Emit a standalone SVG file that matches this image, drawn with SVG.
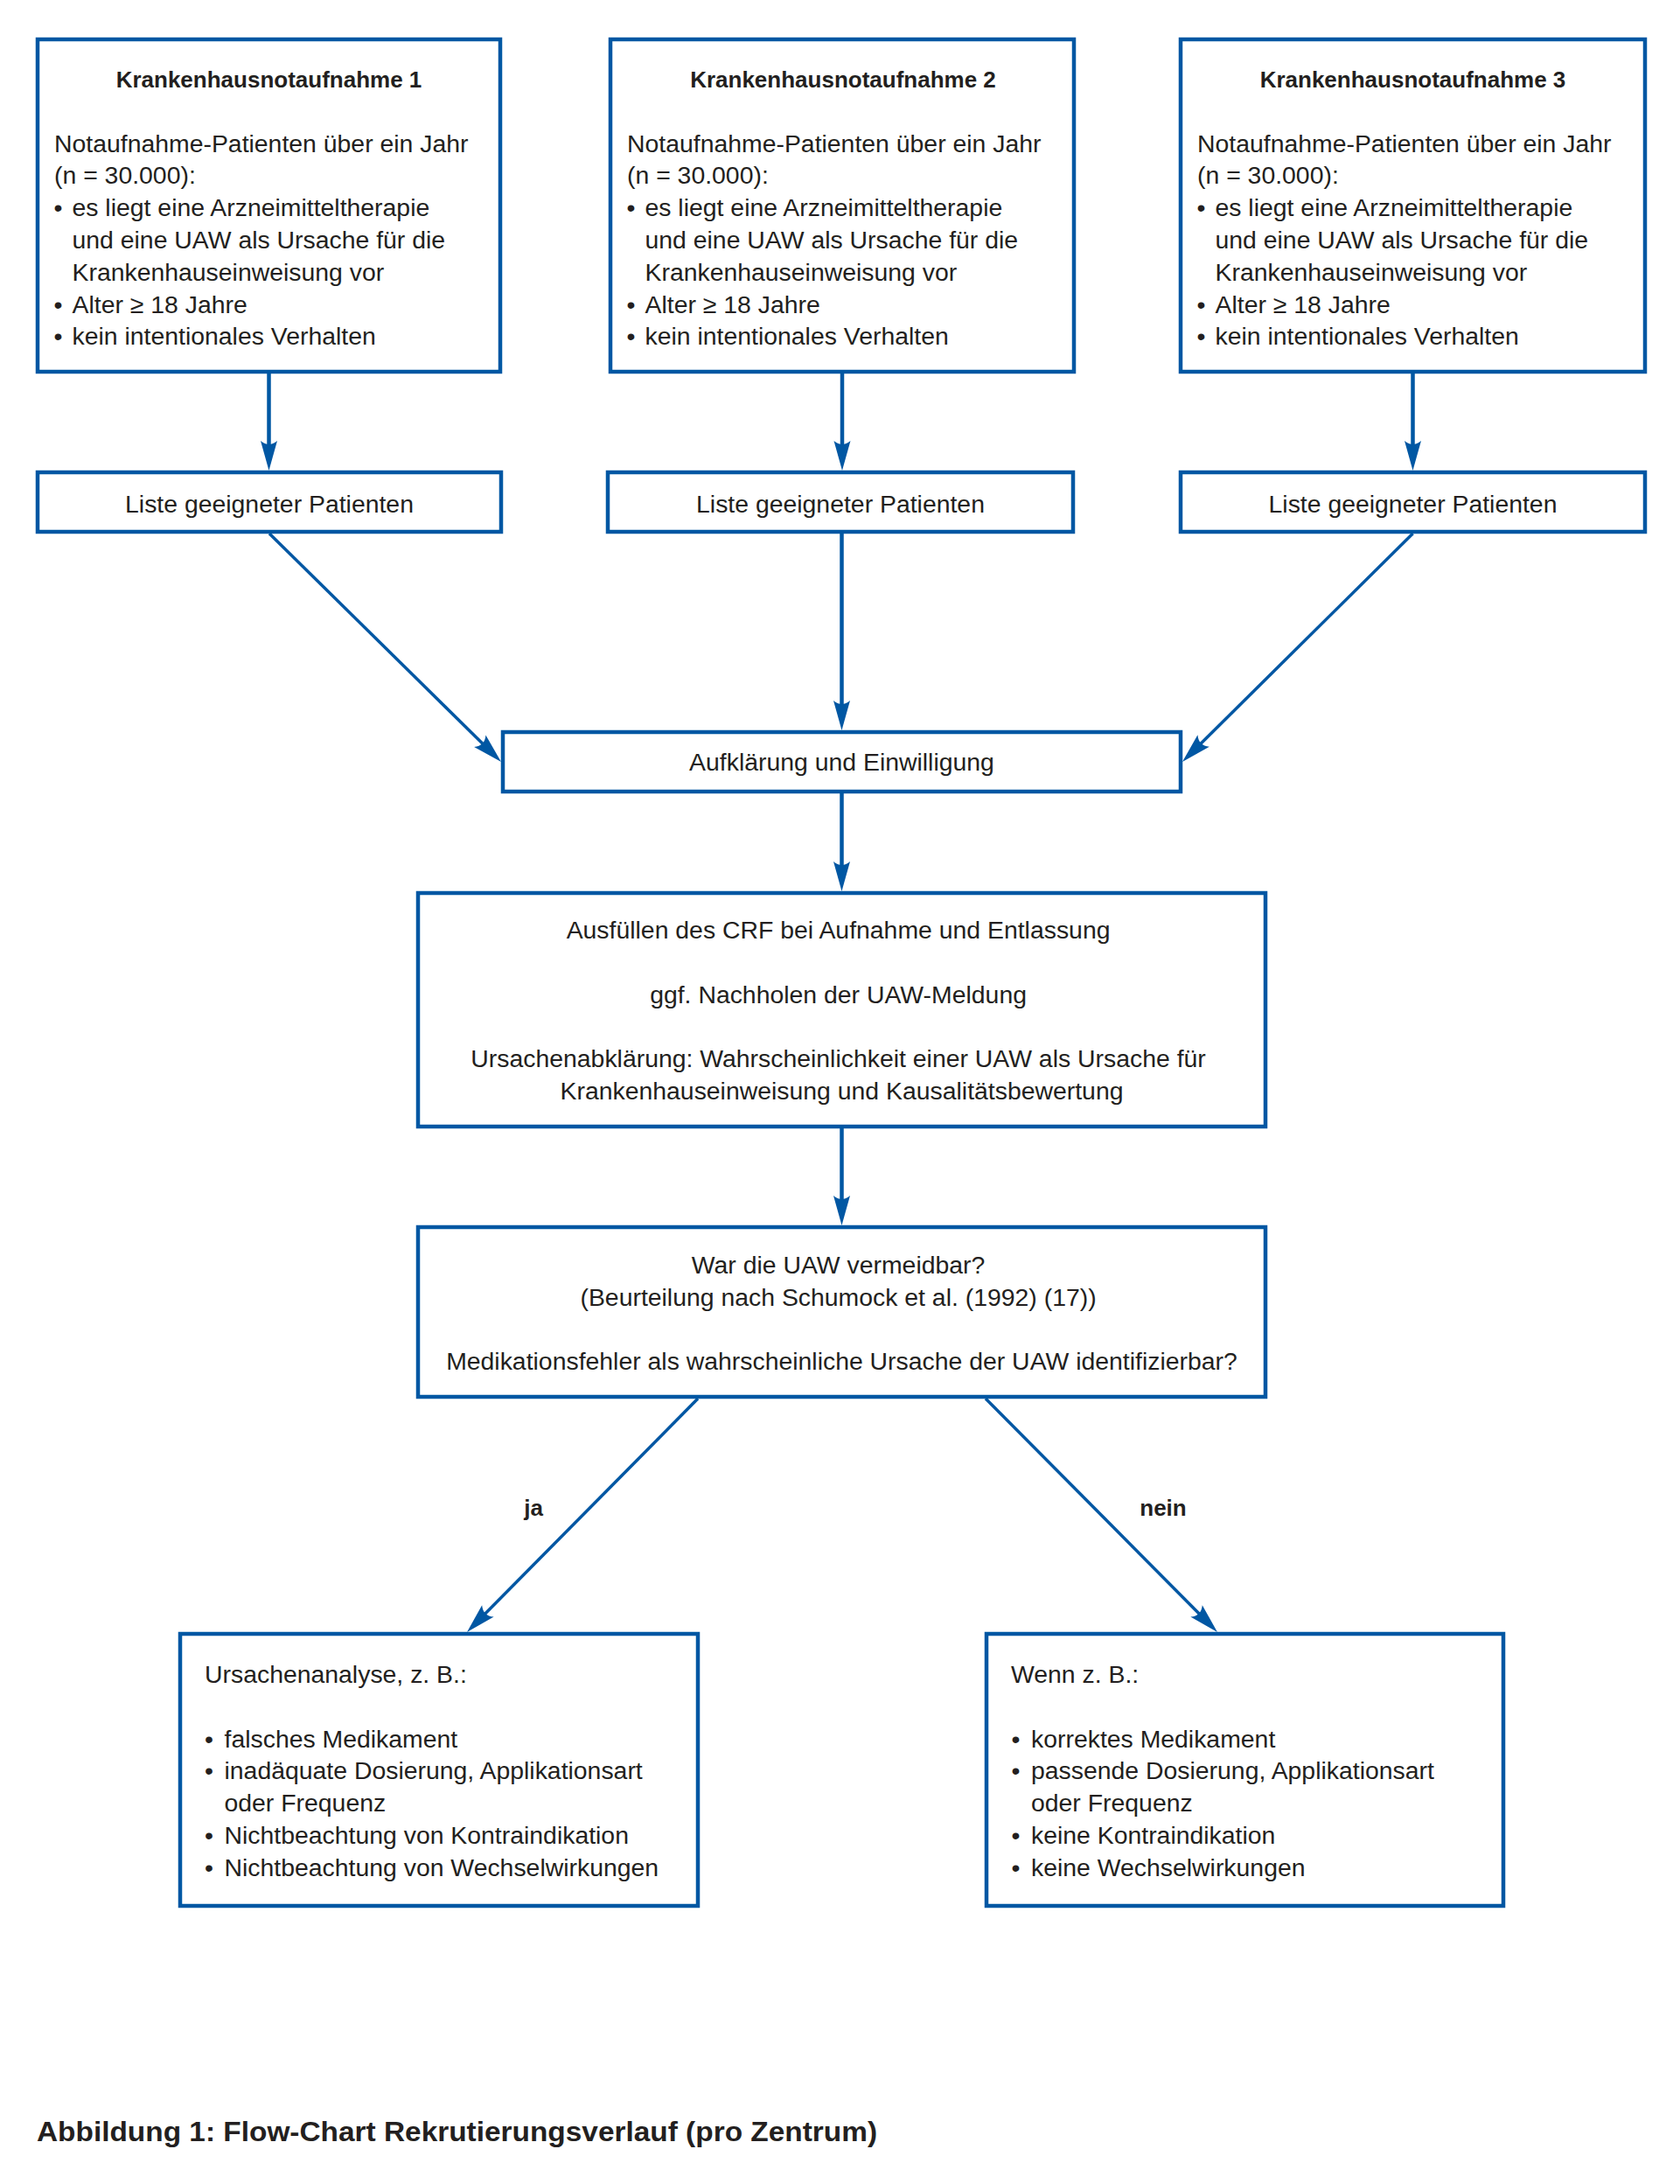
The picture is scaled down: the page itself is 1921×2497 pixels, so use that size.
<svg xmlns="http://www.w3.org/2000/svg" width="1921" height="2497" viewBox="0 0 1921 2497">
<style>
.box{fill:#ffffff;stroke:#0057a3;stroke-width:4.5}
.t{font-family:"Liberation Sans",Arial,sans-serif;font-size:28.4px;fill:#231f20}
.b{font-weight:bold;font-size:26px}
.c{text-anchor:middle}
.con{stroke:#0057a3;fill:none}
.v{stroke-width:4.5}
.d{stroke-width:3.5}
</style>
<defs>
<marker id="ah" markerUnits="userSpaceOnUse" viewBox="0 -10 36 20" markerWidth="36" markerHeight="20" refX="14" refY="0" orient="auto">
<path d="M34,0 L0,-9.5 Q8,0 0,9.5 Z" fill="#0057a3"/>
</marker>
</defs>
<rect x="0" y="0" width="1921" height="2497" fill="#ffffff"/>

<g id="connectors">
<line class="con v" x1="307.5" y1="427" x2="307.5" y2="518" marker-end="url(#ah)"/>
<line class="con v" x1="963" y1="427" x2="963" y2="518" marker-end="url(#ah)"/>
<line class="con v" x1="1615.5" y1="427" x2="1615.5" y2="518" marker-end="url(#ah)"/>
<line class="con d" x1="308" y1="610" x2="558.75" y2="856.97" marker-end="url(#ah)"/>
<line class="con v" x1="962.5" y1="610" x2="962.5" y2="815" marker-end="url(#ah)"/>
<line class="con d" x1="1615.5" y1="610" x2="1366.2" y2="856.9" marker-end="url(#ah)"/>
<line class="con v" x1="962.5" y1="907" x2="962.5" y2="999" marker-end="url(#ah)"/>
<line class="con v" x1="962.5" y1="1290" x2="962.5" y2="1381" marker-end="url(#ah)"/>
<line class="con d" x1="798" y1="1599" x2="548.06" y2="1851.78" marker-end="url(#ah)"/>
<line class="con d" x1="1127" y1="1599" x2="1377.9" y2="1851.8" marker-end="url(#ah)"/>
<text class="t b c" x="610" y="1733">ja</text>
<text class="t b c" x="1330" y="1733">nein</text>
</g>

<g id="kh1">
<rect class="box" x="43" y="45" width="529" height="380"/>
<text class="t b c" x="307.5" y="100">Krankenhausnotaufnahme 1</text>
<text class="t">
<tspan x="62" y="173.5">Notaufnahme-Patienten über ein Jahr</tspan>
<tspan x="62" y="210.3">(n = 30.000):</tspan>
<tspan x="82.5" y="247.1">es liegt eine Arzneimitteltherapie</tspan>
<tspan x="82.5" y="283.9">und eine UAW als Ursache für die</tspan>
<tspan x="82.5" y="320.7">Krankenhauseinweisung vor</tspan>
<tspan x="82.5" y="357.5">Alter ≥ 18 Jahre</tspan>
<tspan x="82.5" y="394.3">kein intentionales Verhalten</tspan>
</text>
<text class="t c"><tspan x="66.5" y="247.1">•</tspan><tspan x="66.5" y="357.5">•</tspan><tspan x="66.5" y="394.3">•</tspan></text>
</g>

<g id="kh2">
<rect class="box" x="698" y="45" width="530" height="380"/>
<text class="t b c" x="964" y="100">Krankenhausnotaufnahme 2</text>
<text class="t">
<tspan x="717" y="173.5">Notaufnahme-Patienten über ein Jahr</tspan>
<tspan x="717" y="210.3">(n = 30.000):</tspan>
<tspan x="737.5" y="247.1">es liegt eine Arzneimitteltherapie</tspan>
<tspan x="737.5" y="283.9">und eine UAW als Ursache für die</tspan>
<tspan x="737.5" y="320.7">Krankenhauseinweisung vor</tspan>
<tspan x="737.5" y="357.5">Alter ≥ 18 Jahre</tspan>
<tspan x="737.5" y="394.3">kein intentionales Verhalten</tspan>
</text>
<text class="t c"><tspan x="721.5" y="247.1">•</tspan><tspan x="721.5" y="357.5">•</tspan><tspan x="721.5" y="394.3">•</tspan></text>
</g>

<g id="kh3">
<rect class="box" x="1350" y="45" width="531" height="380"/>
<text class="t b c" x="1615.5" y="100">Krankenhausnotaufnahme 3</text>
<text class="t">
<tspan x="1369" y="173.5">Notaufnahme-Patienten über ein Jahr</tspan>
<tspan x="1369" y="210.3">(n = 30.000):</tspan>
<tspan x="1389.5" y="247.1">es liegt eine Arzneimitteltherapie</tspan>
<tspan x="1389.5" y="283.9">und eine UAW als Ursache für die</tspan>
<tspan x="1389.5" y="320.7">Krankenhauseinweisung vor</tspan>
<tspan x="1389.5" y="357.5">Alter ≥ 18 Jahre</tspan>
<tspan x="1389.5" y="394.3">kein intentionales Verhalten</tspan>
</text>
<text class="t c"><tspan x="1373.5" y="247.1">•</tspan><tspan x="1373.5" y="357.5">•</tspan><tspan x="1373.5" y="394.3">•</tspan></text>
</g>

<g id="liste1">
<rect class="box" x="43" y="540" width="530" height="68"/>
<text class="t c" x="308" y="586">Liste geeigneter Patienten</text>
</g>
<g id="liste2">
<rect class="box" x="695" y="540" width="532" height="68"/>
<text class="t c" x="961" y="586">Liste geeigneter Patienten</text>
</g>
<g id="liste3">
<rect class="box" x="1350" y="540" width="531" height="68"/>
<text class="t c" x="1615.5" y="586">Liste geeigneter Patienten</text>
</g>

<g id="aufklaerung">
<rect class="box" x="575" y="837" width="775" height="68"/>
<text class="t c" x="962.5" y="881">Aufklärung und Einwilligung</text>
</g>

<g id="crf">
<rect class="box" x="478" y="1021" width="969" height="267"/>
<text class="t c">
<tspan x="962.5" y="1073">Ausfüllen des CRF bei Aufnahme und Entlassung</tspan>
<tspan x="962.5" y="1146.6">ggf. Nachholen der UAW-Meldung</tspan>
<tspan x="962.5" y="1220">Ursachenabklärung: Wahrscheinlichkeit einer UAW als Ursache für</tspan>
<tspan x="962.5" y="1256.8">Krankenhauseinweisung und Kausalitätsbewertung</tspan>
</text>
</g>

<g id="entscheidung">
<rect class="box" x="478" y="1403" width="969" height="194"/>
<text class="t c">
<tspan x="962.5" y="1456">War die UAW vermeidbar?</tspan>
<tspan x="962.5" y="1492.5">(Beurteilung nach Schumock et al. (1992) (17))</tspan>
<tspan x="962.5" y="1566">Medikationsfehler als wahrscheinliche Ursache der UAW identifizierbar?</tspan>
</text>
</g>

<g id="ursachenanalyse">
<rect class="box" x="206" y="1868" width="592" height="311"/>
<text class="t">
<tspan x="234" y="1924">Ursachenanalyse, z. B.:</tspan>
<tspan x="256.5" y="1997.6">falsches Medikament</tspan>
<tspan x="256.5" y="2034.4">inadäquate Dosierung, Applikationsart</tspan>
<tspan x="256.5" y="2071.2">oder Frequenz</tspan>
<tspan x="256.5" y="2108">Nichtbeachtung von Kontraindikation</tspan>
<tspan x="256.5" y="2144.8">Nichtbeachtung von Wechselwirkungen</tspan>
</text>
<text class="t c"><tspan x="239" y="1997.6">•</tspan><tspan x="239" y="2034.4">•</tspan><tspan x="239" y="2108">•</tspan><tspan x="239" y="2144.8">•</tspan></text>
</g>

<g id="wenn">
<rect class="box" x="1128" y="1868" width="591" height="311"/>
<text class="t">
<tspan x="1156" y="1924">Wenn z. B.:</tspan>
<tspan x="1179" y="1997.6">korrektes Medikament</tspan>
<tspan x="1179" y="2034.4">passende Dosierung, Applikationsart</tspan>
<tspan x="1179" y="2071.2">oder Frequenz</tspan>
<tspan x="1179" y="2108">keine Kontraindikation</tspan>
<tspan x="1179" y="2144.8">keine Wechselwirkungen</tspan>
</text>
<text class="t c"><tspan x="1161.5" y="1997.6">•</tspan><tspan x="1161.5" y="2034.4">•</tspan><tspan x="1161.5" y="2108">•</tspan><tspan x="1161.5" y="2144.8">•</tspan></text>
</g>

<g id="caption">
<text class="t" style="font-weight:bold;font-size:32px" x="42" y="2448" textLength="961" lengthAdjust="spacingAndGlyphs">Abbildung 1: Flow-Chart Rekrutierungsverlauf (pro Zentrum)</text>
</g>
</svg>
